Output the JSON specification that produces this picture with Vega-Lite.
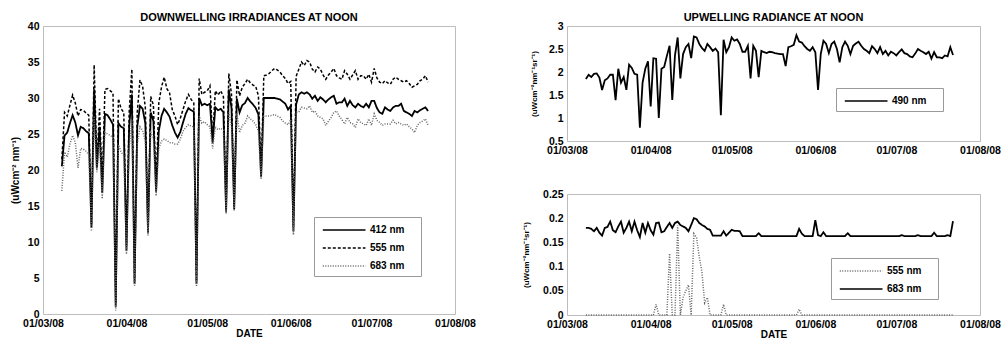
{
"$schema":"https://vega.github.io/schema/vega-lite/v6.json",
"padding":{"left":9,"top":11,"right":0,"bottom":0},
"background":"white",
"datasets":{
"left":[
{"date":"2008-03-08","e412":20.5,"e555":21.5,"e683":17.1},
{"date":"2008-03-09","e412":24.8,"e555":28.0,"e683":22.5},
{"date":"2008-03-10","e412":25.2,"e555":27.5,"e683":21.8},
{"date":"2008-03-11","e412":26.5,"e555":29.0,"e683":23.6},
{"date":"2008-03-12","e412":27.6,"e555":30.4,"e683":24.8},
{"date":"2008-03-13","e412":26.6,"e555":29.3,"e683":23.8},
{"date":"2008-03-14","e412":24.8,"e555":27.5,"e683":20.3},
{"date":"2008-03-15","e412":26.0,"e555":28.4,"e683":23.0},
{"date":"2008-03-16","e412":25.8,"e555":28.3,"e683":22.9},
{"date":"2008-03-17","e412":25.4,"e555":27.9,"e683":22.6},
{"date":"2008-03-18","e412":25.1,"e555":27.6,"e683":22.1},
{"date":"2008-03-19","e412":12.0,"e555":12.5,"e683":11.5},
{"date":"2008-03-20","e412":31.2,"e555":34.6,"e683":27.5},
{"date":"2008-03-21","e412":20.2,"e555":21.0,"e683":19.7},
{"date":"2008-03-22","e412":26.0,"e555":28.5,"e683":24.0},
{"date":"2008-03-23","e412":16.8,"e555":17.5,"e683":16.0},
{"date":"2008-03-24","e412":27.8,"e555":31.2,"e683":25.2},
{"date":"2008-03-25","e412":27.6,"e555":31.3,"e683":25.0},
{"date":"2008-03-26","e412":27.0,"e555":31.0,"e683":24.8},
{"date":"2008-03-27","e412":26.3,"e555":30.7,"e683":24.5},
{"date":"2008-03-28","e412":1.0,"e555":1.5,"e683":0.5},
{"date":"2008-03-29","e412":26.5,"e555":29.9,"e683":23.5},
{"date":"2008-03-30","e412":26.0,"e555":28.5,"e683":22.5},
{"date":"2008-03-31","e412":25.8,"e555":28.0,"e683":22.0},
{"date":"2008-04-01","e412":8.8,"e555":9.5,"e683":8.3},
{"date":"2008-04-02","e412":26.0,"e555":28.0,"e683":23.0},
{"date":"2008-04-03","e412":30.5,"e555":34.0,"e683":27.0},
{"date":"2008-04-04","e412":4.2,"e555":4.5,"e683":3.9},
{"date":"2008-04-05","e412":26.0,"e555":28.0,"e683":23.5},
{"date":"2008-04-06","e412":28.9,"e555":32.5,"e683":26.0},
{"date":"2008-04-07","e412":28.5,"e555":31.6,"e683":25.5},
{"date":"2008-04-08","e412":26.5,"e555":28.7,"e683":24.0},
{"date":"2008-04-09","e412":11.3,"e555":11.8,"e683":10.9},
{"date":"2008-04-10","e412":28.0,"e555":30.2,"e683":25.2},
{"date":"2008-04-11","e412":26.8,"e555":29.0,"e683":24.5},
{"date":"2008-04-12","e412":17.0,"e555":17.5,"e683":16.4},
{"date":"2008-04-13","e412":25.4,"e555":29.3,"e683":23.0},
{"date":"2008-04-14","e412":27.5,"e555":31.5,"e683":24.0},
{"date":"2008-04-15","e412":28.5,"e555":32.9,"e683":24.3},
{"date":"2008-04-16","e412":28.0,"e555":31.3,"e683":24.1},
{"date":"2008-04-17","e412":27.4,"e555":30.7,"e683":23.8},
{"date":"2008-04-18","e412":26.2,"e555":28.4,"e683":23.8},
{"date":"2008-04-19","e412":25.2,"e555":27.5,"e683":23.6},
{"date":"2008-04-20","e412":24.5,"e555":26.3,"e683":23.6},
{"date":"2008-04-21","e412":25.3,"e555":27.2,"e683":24.3},
{"date":"2008-04-22","e412":26.6,"e555":28.4,"e683":25.4},
{"date":"2008-04-23","e412":27.8,"e555":29.6,"e683":25.9},
{"date":"2008-04-24","e412":28.6,"e555":30.5,"e683":26.3},
{"date":"2008-04-25","e412":28.3,"e555":29.8,"e683":26.1},
{"date":"2008-04-26","e412":28.1,"e555":29.3,"e683":26.0},
{"date":"2008-04-27","e412":4.2,"e555":4.5,"e683":3.9},
{"date":"2008-04-28","e412":30.0,"e555":32.7,"e683":27.5},
{"date":"2008-04-29","e412":29.0,"e555":30.5,"e683":26.5},
{"date":"2008-04-30","e412":29.2,"e555":30.8,"e683":26.7},
{"date":"2008-05-01","e412":29.0,"e555":31.0,"e683":26.3},
{"date":"2008-05-02","e412":29.2,"e555":31.7,"e683":26.0},
{"date":"2008-05-03","e412":23.8,"e555":24.5,"e683":23.0},
{"date":"2008-05-04","e412":28.7,"e555":31.0,"e683":26.0},
{"date":"2008-05-05","e412":28.3,"e555":30.4,"e683":25.6},
{"date":"2008-05-06","e412":28.5,"e555":31.0,"e683":25.8},
{"date":"2008-05-07","e412":28.0,"e555":30.2,"e683":25.5},
{"date":"2008-05-08","e412":14.2,"e555":14.5,"e683":13.9},
{"date":"2008-05-09","e412":31.2,"e555":33.4,"e683":28.0},
{"date":"2008-05-10","e412":28.6,"e555":30.5,"e683":26.0},
{"date":"2008-05-11","e412":14.6,"e555":15.0,"e683":14.3},
{"date":"2008-05-12","e412":29.9,"e555":32.5,"e683":27.9},
{"date":"2008-05-13","e412":28.0,"e555":30.3,"e683":25.2},
{"date":"2008-05-14","e412":29.0,"e555":31.5,"e683":26.2},
{"date":"2008-05-15","e412":29.3,"e555":32.0,"e683":26.5},
{"date":"2008-05-16","e412":30.0,"e555":32.6,"e683":27.5},
{"date":"2008-05-17","e412":29.5,"e555":32.1,"e683":27.1},
{"date":"2008-05-18","e412":29.1,"e555":31.8,"e683":26.8},
{"date":"2008-05-19","e412":28.6,"e555":31.6,"e683":26.3},
{"date":"2008-05-20","e412":27.7,"e555":30.3,"e683":25.4},
{"date":"2008-05-21","e412":19.0,"e555":19.5,"e683":18.75},
{"date":"2008-05-22","e412":30.0,"e555":33.1,"e683":27.5},
{"date":"2008-05-23","e412":30.0,"e555":33.2,"e683":27.5},
{"date":"2008-05-24","e412":30.0,"e555":33.4,"e683":27.5},
{"date":"2008-05-25","e412":30.0,"e555":33.8,"e683":27.6},
{"date":"2008-05-26","e412":30.0,"e555":34.1,"e683":27.7},
{"date":"2008-05-27","e412":29.9,"e555":33.9,"e683":27.5},
{"date":"2008-05-28","e412":29.8,"e555":33.6,"e683":27.3},
{"date":"2008-05-29","e412":29.5,"e555":33.1,"e683":26.8},
{"date":"2008-05-30","e412":29.2,"e555":32.7,"e683":26.5},
{"date":"2008-05-31","e412":28.4,"e555":32.0,"e683":26.3},
{"date":"2008-06-01","e412":28.9,"e555":32.3,"e683":27.0},
{"date":"2008-06-02","e412":11.5,"e555":12.0,"e683":11.0},
{"date":"2008-06-03","e412":29.1,"e555":33.0,"e683":28.0},
{"date":"2008-06-04","e412":30.5,"e555":34.0,"e683":28.1},
{"date":"2008-06-05","e412":30.8,"e555":35.0,"e683":28.7},
{"date":"2008-06-06","e412":30.6,"e555":34.5,"e683":28.6},
{"date":"2008-06-07","e412":30.8,"e555":35.2,"e683":28.5},
{"date":"2008-06-08","e412":30.5,"e555":35.0,"e683":28.9},
{"date":"2008-06-09","e412":29.9,"e555":34.0,"e683":28.0},
{"date":"2008-06-10","e412":30.3,"e555":33.6,"e683":28.2},
{"date":"2008-06-11","e412":29.6,"e555":34.3,"e683":27.5},
{"date":"2008-06-12","e412":30.1,"e555":34.0,"e683":27.3},
{"date":"2008-06-13","e412":29.8,"e555":33.2,"e683":27.1},
{"date":"2008-06-14","e412":29.4,"e555":32.6,"e683":26.2},
{"date":"2008-06-15","e412":29.8,"e555":33.2,"e683":26.8},
{"date":"2008-06-16","e412":30.1,"e555":33.6,"e683":27.3},
{"date":"2008-06-17","e412":30.3,"e555":34.1,"e683":28.0},
{"date":"2008-06-18","e412":29.2,"e555":33.1,"e683":28.2},
{"date":"2008-06-19","e412":29.4,"e555":32.8,"e683":27.5},
{"date":"2008-06-20","e412":29.4,"e555":32.6,"e683":27.0},
{"date":"2008-06-21","e412":29.9,"e555":33.8,"e683":26.4},
{"date":"2008-06-22","e412":28.9,"e555":33.3,"e683":27.3},
{"date":"2008-06-23","e412":29.6,"e555":32.6,"e683":26.6},
{"date":"2008-06-24","e412":29.0,"e555":33.2,"e683":26.4},
{"date":"2008-06-25","e412":28.7,"e555":33.8,"e683":25.9},
{"date":"2008-06-26","e412":29.2,"e555":32.6,"e683":27.1},
{"date":"2008-06-27","e412":28.9,"e555":33.1,"e683":26.6},
{"date":"2008-06-28","e412":28.7,"e555":33.1,"e683":26.4},
{"date":"2008-06-29","e412":29.2,"e555":32.6,"e683":26.2},
{"date":"2008-06-30","e412":28.7,"e555":33.3,"e683":27.1},
{"date":"2008-07-01","e412":29.6,"e555":32.2,"e683":26.2},
{"date":"2008-07-02","e412":29.6,"e555":34.1,"e683":27.8},
{"date":"2008-07-03","e412":28.6,"e555":32.8,"e683":26.9},
{"date":"2008-07-04","e412":28.0,"e555":32.2,"e683":26.6},
{"date":"2008-07-05","e412":27.8,"e555":32.0,"e683":26.2},
{"date":"2008-07-06","e412":28.7,"e555":32.4,"e683":26.4},
{"date":"2008-07-07","e412":28.4,"e555":32.1,"e683":26.4},
{"date":"2008-07-08","e412":28.2,"e555":31.9,"e683":26.4},
{"date":"2008-07-09","e412":28.7,"e555":32.6,"e683":26.9},
{"date":"2008-07-10","e412":28.9,"e555":32.9,"e683":26.4},
{"date":"2008-07-11","e412":28.9,"e555":32.6,"e683":26.6},
{"date":"2008-07-12","e412":29.2,"e555":32.4,"e683":26.4},
{"date":"2008-07-13","e412":28.2,"e555":32.2,"e683":26.2},
{"date":"2008-07-14","e412":28.0,"e555":32.4,"e683":26.4},
{"date":"2008-07-15","e412":27.8,"e555":32.0,"e683":26.0},
{"date":"2008-07-16","e412":27.5,"e555":31.5,"e683":25.7},
{"date":"2008-07-17","e412":28.2,"e555":31.7,"e683":25.2},
{"date":"2008-07-18","e412":28.0,"e555":31.9,"e683":26.2},
{"date":"2008-07-19","e412":28.3,"e555":32.4,"e683":26.6},
{"date":"2008-07-20","e412":28.5,"e555":32.6,"e683":26.8},
{"date":"2008-07-21","e412":28.7,"e555":33.1,"e683":27.1},
{"date":"2008-07-22","e412":28.2,"e555":32.2,"e683":26.2}
],
"right":[
{"date":"2008-03-08","r490":1.85,"r555":0,"r683":0.180},
{"date":"2008-03-09","r490":1.94,"r555":0,"r683":0.180},
{"date":"2008-03-10","r490":1.89,"r555":0,"r683":0.178},
{"date":"2008-03-11","r490":1.96,"r555":0,"r683":0.173},
{"date":"2008-03-12","r490":1.97,"r555":0,"r683":0.180},
{"date":"2008-03-13","r490":1.88,"r555":0,"r683":0.170},
{"date":"2008-03-14","r490":1.61,"r555":0,"r683":0.164},
{"date":"2008-03-15","r490":1.82,"r555":0,"r683":0.180},
{"date":"2008-03-16","r490":1.86,"r555":0,"r683":0.182},
{"date":"2008-03-17","r490":1.94,"r555":0,"r683":0.193},
{"date":"2008-03-18","r490":1.94,"r555":0,"r683":0.175},
{"date":"2008-03-19","r490":1.39,"r555":0,"r683":0.171},
{"date":"2008-03-20","r490":2.07,"r555":0,"r683":0.183},
{"date":"2008-03-21","r490":1.77,"r555":0,"r683":0.193},
{"date":"2008-03-22","r490":1.89,"r555":0,"r683":0.170},
{"date":"2008-03-23","r490":1.61,"r555":0,"r683":0.180},
{"date":"2008-03-24","r490":2.16,"r555":0,"r683":0.193},
{"date":"2008-03-25","r490":2.09,"r555":0,"r683":0.173},
{"date":"2008-03-26","r490":1.96,"r555":0,"r683":0.193},
{"date":"2008-03-27","r490":1.94,"r555":0,"r683":0.175},
{"date":"2008-03-28","r490":0.79,"r555":0,"r683":0.161},
{"date":"2008-03-29","r490":1.77,"r555":0,"r683":0.190},
{"date":"2008-03-30","r490":2.07,"r555":0,"r683":0.170},
{"date":"2008-03-31","r490":2.23,"r555":0,"r683":0.190},
{"date":"2008-04-01","r490":1.25,"r555":0,"r683":0.175},
{"date":"2008-04-02","r490":2.30,"r555":0,"r683":0.166},
{"date":"2008-04-03","r490":2.29,"r555":0.022,"r683":0.190},
{"date":"2008-04-04","r490":1.00,"r555":0,"r683":0.191},
{"date":"2008-04-05","r490":2.07,"r555":0,"r683":0.171},
{"date":"2008-04-06","r490":2.11,"r555":0,"r683":0.173},
{"date":"2008-04-07","r490":2.35,"r555":0,"r683":0.182},
{"date":"2008-04-08","r490":2.57,"r555":0.127,"r683":0.190},
{"date":"2008-04-09","r490":1.39,"r555":0,"r683":0.180},
{"date":"2008-04-10","r490":2.36,"r555":0,"r683":0.190},
{"date":"2008-04-11","r490":2.75,"r555":0.185,"r683":0.193},
{"date":"2008-04-12","r490":1.86,"r555":0,"r683":0.186},
{"date":"2008-04-13","r490":2.39,"r555":0.036,"r683":0.183},
{"date":"2008-04-14","r490":2.54,"r555":0.050,"r683":0.180},
{"date":"2008-04-15","r490":2.61,"r555":0.062,"r683":0.173},
{"date":"2008-04-16","r490":2.30,"r555":0,"r683":0.186},
{"date":"2008-04-17","r490":2.77,"r555":0.168,"r683":0.200},
{"date":"2008-04-18","r490":2.75,"r555":0.160,"r683":0.198},
{"date":"2008-04-19","r490":2.61,"r555":0.120,"r683":0.190},
{"date":"2008-04-20","r490":2.52,"r555":0.088,"r683":0.186},
{"date":"2008-04-21","r490":2.46,"r555":0.025,"r683":0.183},
{"date":"2008-04-22","r490":2.61,"r555":0.036,"r683":0.178},
{"date":"2008-04-23","r490":2.54,"r555":0,"r683":0.176},
{"date":"2008-04-24","r490":2.46,"r555":0,"r683":0.164},
{"date":"2008-04-25","r490":2.51,"r555":0,"r683":0.164},
{"date":"2008-04-26","r490":2.43,"r555":0,"r683":0.164},
{"date":"2008-04-27","r490":1.06,"r555":0,"r683":0.164},
{"date":"2008-04-28","r490":2.70,"r555":0.022,"r683":0.173},
{"date":"2008-04-29","r490":2.43,"r555":0,"r683":0.164},
{"date":"2008-04-30","r490":2.54,"r555":0,"r683":0.170},
{"date":"2008-05-01","r490":2.75,"r555":0,"r683":0.176},
{"date":"2008-05-02","r490":2.68,"r555":0,"r683":0.174},
{"date":"2008-05-03","r490":2.71,"r555":0,"r683":0.174},
{"date":"2008-05-04","r490":2.61,"r555":0,"r683":0.173},
{"date":"2008-05-05","r490":2.44,"r555":0,"r683":0.163},
{"date":"2008-05-06","r490":2.44,"r555":0,"r683":0.163},
{"date":"2008-05-07","r490":2.57,"r555":0,"r683":0.163},
{"date":"2008-05-08","r490":1.86,"r555":0,"r683":0.163},
{"date":"2008-05-09","r490":2.57,"r555":0,"r683":0.163},
{"date":"2008-05-10","r490":2.46,"r555":0,"r683":0.163},
{"date":"2008-05-11","r490":1.89,"r555":0,"r683":0.169},
{"date":"2008-05-12","r490":2.46,"r555":0,"r683":0.163},
{"date":"2008-05-13","r490":2.43,"r555":0,"r683":0.163},
{"date":"2008-05-14","r490":2.41,"r555":0,"r683":0.163},
{"date":"2008-05-15","r490":2.44,"r555":0,"r683":0.163},
{"date":"2008-05-16","r490":2.43,"r555":0,"r683":0.163},
{"date":"2008-05-17","r490":2.41,"r555":0,"r683":0.163},
{"date":"2008-05-18","r490":2.40,"r555":0,"r683":0.163},
{"date":"2008-05-19","r490":2.39,"r555":0,"r683":0.163},
{"date":"2008-05-20","r490":2.39,"r555":0,"r683":0.163},
{"date":"2008-05-21","r490":2.13,"r555":0,"r683":0.163},
{"date":"2008-05-22","r490":2.54,"r555":0,"r683":0.163},
{"date":"2008-05-23","r490":2.56,"r555":0,"r683":0.163},
{"date":"2008-05-24","r490":2.59,"r555":0,"r683":0.163},
{"date":"2008-05-25","r490":2.80,"r555":0,"r683":0.163},
{"date":"2008-05-26","r490":2.66,"r555":0.012,"r683":0.178},
{"date":"2008-05-27","r490":2.64,"r555":0,"r683":0.168},
{"date":"2008-05-28","r490":2.56,"r555":0,"r683":0.163},
{"date":"2008-05-29","r490":2.50,"r555":0,"r683":0.163},
{"date":"2008-05-30","r490":2.46,"r555":0,"r683":0.163},
{"date":"2008-05-31","r490":2.54,"r555":0,"r683":0.163},
{"date":"2008-06-01","r490":2.43,"r555":0,"r683":0.196},
{"date":"2008-06-02","r490":1.61,"r555":0,"r683":0.165},
{"date":"2008-06-03","r490":2.39,"r555":0,"r683":0.163},
{"date":"2008-06-04","r490":2.68,"r555":0,"r683":0.171},
{"date":"2008-06-05","r490":2.61,"r555":0,"r683":0.163},
{"date":"2008-06-06","r490":2.41,"r555":0,"r683":0.163},
{"date":"2008-06-07","r490":2.61,"r555":0,"r683":0.163},
{"date":"2008-06-08","r490":2.66,"r555":0,"r683":0.163},
{"date":"2008-06-09","r490":2.50,"r555":0,"r683":0.163},
{"date":"2008-06-10","r490":2.21,"r555":0,"r683":0.163},
{"date":"2008-06-11","r490":2.54,"r555":0,"r683":0.163},
{"date":"2008-06-12","r490":2.66,"r555":0,"r683":0.163},
{"date":"2008-06-13","r490":2.57,"r555":0,"r683":0.169},
{"date":"2008-06-14","r490":2.39,"r555":0,"r683":0.163},
{"date":"2008-06-15","r490":2.57,"r555":0,"r683":0.163},
{"date":"2008-06-16","r490":2.62,"r555":0,"r683":0.163},
{"date":"2008-06-17","r490":2.66,"r555":0,"r683":0.163},
{"date":"2008-06-18","r490":2.57,"r555":0,"r683":0.163},
{"date":"2008-06-19","r490":2.50,"r555":0,"r683":0.163},
{"date":"2008-06-20","r490":2.46,"r555":0,"r683":0.163},
{"date":"2008-06-21","r490":2.41,"r555":0,"r683":0.163},
{"date":"2008-06-22","r490":2.56,"r555":0,"r683":0.163},
{"date":"2008-06-23","r490":2.50,"r555":0,"r683":0.163},
{"date":"2008-06-24","r490":2.41,"r555":0,"r683":0.163},
{"date":"2008-06-25","r490":2.54,"r555":0,"r683":0.163},
{"date":"2008-06-26","r490":2.39,"r555":0,"r683":0.163},
{"date":"2008-06-27","r490":2.46,"r555":0,"r683":0.163},
{"date":"2008-06-28","r490":2.36,"r555":0,"r683":0.163},
{"date":"2008-06-29","r490":2.44,"r555":0,"r683":0.163},
{"date":"2008-06-30","r490":2.41,"r555":0,"r683":0.163},
{"date":"2008-07-01","r490":2.36,"r555":0,"r683":0.163},
{"date":"2008-07-02","r490":2.43,"r555":0,"r683":0.163},
{"date":"2008-07-03","r490":2.49,"r555":0,"r683":0.165},
{"date":"2008-07-04","r490":2.41,"r555":0,"r683":0.163},
{"date":"2008-07-05","r490":2.39,"r555":0,"r683":0.163},
{"date":"2008-07-06","r490":2.34,"r555":0,"r683":0.163},
{"date":"2008-07-07","r490":2.32,"r555":0,"r683":0.163},
{"date":"2008-07-08","r490":2.40,"r555":0,"r683":0.163},
{"date":"2008-07-09","r490":2.50,"r555":0,"r683":0.165},
{"date":"2008-07-10","r490":2.46,"r555":0,"r683":0.163},
{"date":"2008-07-11","r490":2.43,"r555":0,"r683":0.163},
{"date":"2008-07-12","r490":2.39,"r555":0,"r683":0.163},
{"date":"2008-07-13","r490":2.44,"r555":0,"r683":0.163},
{"date":"2008-07-14","r490":2.29,"r555":0,"r683":0.163},
{"date":"2008-07-15","r490":2.43,"r555":0,"r683":0.170},
{"date":"2008-07-16","r490":2.32,"r555":0,"r683":0.163},
{"date":"2008-07-17","r490":2.32,"r555":0,"r683":0.163},
{"date":"2008-07-18","r490":2.30,"r555":0,"r683":0.163},
{"date":"2008-07-19","r490":2.36,"r555":0,"r683":0.163},
{"date":"2008-07-20","r490":2.34,"r555":0,"r683":0.165},
{"date":"2008-07-21","r490":2.54,"r555":0,"r683":0.163},
{"date":"2008-07-22","r490":2.37,"r555":0,"r683":0.194}
]
},
"hconcat":[
{
"width":412,"height":288,
"title":{"text":"DOWNWELLING IRRADIANCES AT  NOON"},
"data":{"name":"left"},
"encoding":{"x":{"field":"date","type":"temporal","scale":{"type":"utc","domain":[{"year":2008,"month":3,"date":1,"utc":true},{"year":2008,"month":8,"date":1,"utc":true}]},"axis":{"title":"DATE","format":"%d/%m/%y","values":[{"year":2008,"month":3,"date":1,"utc":true},{"year":2008,"month":4,"date":1,"utc":true},{"year":2008,"month":5,"date":1,"utc":true},{"year":2008,"month":6,"date":1,"utc":true},{"year":2008,"month":7,"date":1,"utc":true},{"year":2008,"month":8,"date":1,"utc":true}]}}},
"layer":[
{"mark":{"type":"line","strokeWidth":1.8},"encoding":{
"y":{"field":"e412","type":"quantitative","scale":{"domain":[0,40]},"axis":{"title":"(uWcm⁻² nm⁻¹)","titlePadding":7,"values":[0,5,10,15,20,25,30,35,40]}},
"color":{"datum":"412 nm","scale":{"domain":["412 nm","555 nm","683 nm"],"range":["#000000","#000000","#666666"]},"legend":{"title":"WW","orient":"none","legendX":271,"legendY":191,"symbolType":"M-0.6,0H5.5"}},
"strokeDash":{"datum":"412 nm","scale":{"domain":["412 nm","555 nm","683 nm"],"range":[[1,0],[3,2],[1,1.5]]},"legend":{"title":"WW","orient":"none","legendX":271,"legendY":191,"symbolType":"M-0.6,0H5.5"}}}},
{"mark":{"type":"line","strokeWidth":1.5},"encoding":{
"y":{"field":"e555","type":"quantitative","scale":{"domain":[0,40]},"axis":{"title":"(uWcm⁻² nm⁻¹)","titlePadding":7,"values":[0,5,10,15,20,25,30,35,40]}},
"color":{"datum":"555 nm"},
"strokeDash":{"datum":"555 nm"}}},
{"mark":{"type":"line","strokeWidth":1.5},"encoding":{
"y":{"field":"e683","type":"quantitative","scale":{"domain":[0,40]},"axis":{"title":"(uWcm⁻² nm⁻¹)","titlePadding":7,"values":[0,5,10,15,20,25,30,35,40]}},
"color":{"datum":"683 nm"},
"strokeDash":{"datum":"683 nm"}}}
]
},
{
"vconcat":[
{
"width":413,"height":115,
"title":{"text":"UPWELLING RADIANCE AT NOON"},
"data":{"name":"right"},
"mark":{"type":"line","strokeWidth":1.8},
"encoding":{
"x":{"field":"date","type":"temporal","scale":{"type":"utc","domain":[{"year":2008,"month":3,"date":1,"utc":true},{"year":2008,"month":8,"date":1,"utc":true}]},"axis":{"title":null,"format":"%d/%m/%y","values":[{"year":2008,"month":3,"date":1,"utc":true},{"year":2008,"month":4,"date":1,"utc":true},{"year":2008,"month":5,"date":1,"utc":true},{"year":2008,"month":6,"date":1,"utc":true},{"year":2008,"month":7,"date":1,"utc":true},{"year":2008,"month":8,"date":1,"utc":true}]}},
"y":{"field":"r490","type":"quantitative","scale":{"domain":[0.5,3]},"axis":{"title":"(uWcm⁻²nm⁻¹sr⁻¹)","titleFontSize":8,"titlePadding":10,"format":"~g","values":[0.5,1,1.5,2,2.5,3]}},
"color":{"datum":"490 nm","scale":{"domain":["490 nm"],"range":["#000000"]},"legend":{"title":"WW","orient":"none","legendX":269,"legendY":62,"symbolType":"M-0.6,0H5.5"}}
}
},
{
"width":413,"height":121,
"data":{"name":"right"},
"encoding":{"x":{"field":"date","type":"temporal","scale":{"type":"utc","domain":[{"year":2008,"month":3,"date":1,"utc":true},{"year":2008,"month":8,"date":1,"utc":true}]},"axis":{"title":"DATE","format":"%d/%m/%y","values":[{"year":2008,"month":3,"date":1,"utc":true},{"year":2008,"month":4,"date":1,"utc":true},{"year":2008,"month":5,"date":1,"utc":true},{"year":2008,"month":6,"date":1,"utc":true},{"year":2008,"month":7,"date":1,"utc":true},{"year":2008,"month":8,"date":1,"utc":true}]}}},
"layer":[
{"mark":{"type":"line","strokeWidth":1.5},"encoding":{
"y":{"field":"r555","type":"quantitative","scale":{"domain":[0,0.25]},"axis":{"title":"(uWcm⁻²nm⁻¹sr⁻¹)","titleFontSize":8,"titlePadding":12,"format":"~g","values":[0,0.05,0.1,0.15,0.2,0.25]}},
"color":{"datum":"555 nm","scale":{"domain":["555 nm","683 nm"],"range":["#666666","#000000"]},"legend":{"title":"WW","orient":"none","legendX":264,"legendY":64,"symbolType":"M-0.6,0H5.5"}},
"strokeDash":{"datum":"555 nm","scale":{"domain":["555 nm","683 nm"],"range":[[1,1.5],[1,0]]},"legend":{"title":"WW","orient":"none","legendX":264,"legendY":64,"symbolType":"M-0.6,0H5.5"}}}},
{"mark":{"type":"line","strokeWidth":1.8},"encoding":{
"y":{"field":"r683","type":"quantitative","scale":{"domain":[0,0.25]},"axis":{"title":"(uWcm⁻²nm⁻¹sr⁻¹)","titleFontSize":8,"titlePadding":12,"format":"~g","values":[0,0.05,0.1,0.15,0.2,0.25]}},
"color":{"datum":"683 nm"},
"strokeDash":{"datum":"683 nm"}}}
]
}
],
"spacing":53,
"bounds":"flush",
"resolve":{"scale":{"color":"independent","strokeDash":"independent","y":"independent"},"legend":{"color":"independent","strokeDash":"independent"}}
}
],
"spacing":46,
"bounds":"full",
"resolve":{"scale":{"color":"independent","strokeDash":"independent","y":"independent"},"legend":{"color":"independent","strokeDash":"independent"}},
"config":{
"font":"Liberation Sans",
"view":{"stroke":"#bdbdbd","strokeWidth":1},
"axis":{"domain":false,"grid":false,"ticks":false,"labelFont":"Liberation Sans","labelFontSize":10.5,"labelFontWeight":"bold","labelColor":"#000000","labelFlush":false,"labelOverlap":false,"labelPadding":4,"titleFont":"Liberation Sans","titleFontWeight":"bold","titleFontSize":10,"titleColor":"#000000"},
"axisX":{"titlePadding":0},
"title":{"font":"Liberation Sans","fontSize":11,"fontWeight":"bold","color":"#000000","offset":-2},
"legend":{"strokeColor":"#9a9a9a","padding":5,"symbolSize":196,"symbolStrokeWidth":1.6,"labelFont":"Liberation Sans","labelFontWeight":"bold","labelFontSize":10,"rowPadding":5,"labelOffset":35,"titleOrient":"right","titleOpacity":0,"titleFontSize":6,"titlePadding":0}
}
}
